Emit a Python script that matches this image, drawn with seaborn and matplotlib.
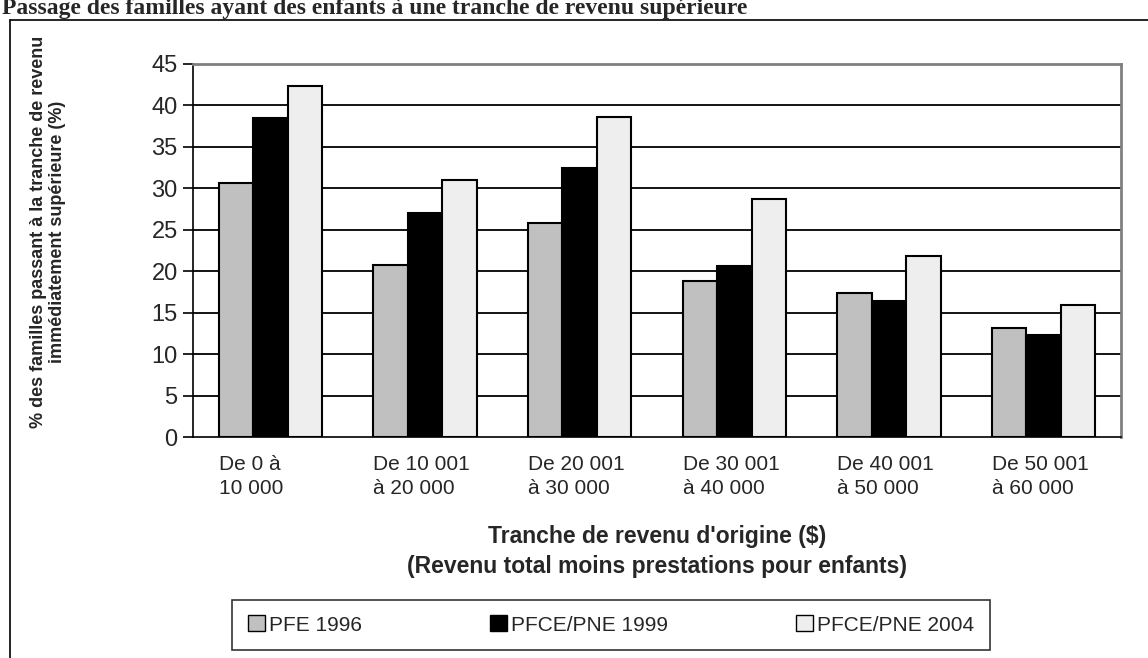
import numpy as np
import pandas as pd
import seaborn as sns
import matplotlib.pyplot as plt
from matplotlib.lines import Line2D

# categories (tranches de revenu d'origine)
tranches = ["De 0 à\n10 000", "De 10 001\nà 20 000", "De 20 001\nà 30 000",
            "De 30 001\nà 40 000", "De 40 001\nà 50 000", "De 50 001\nà 60 000"]
series = ["PFE 1996", "PFCE/PNE 1999", "PFCE/PNE 2004"]

# % des familles passant à la tranche supérieure
pfe_1996 = [30.6, 20.7, 25.8, 18.8, 17.4, 13.2]
pfce_1999 = [38.5, 27.0, 32.4, 20.6, 16.4, 12.3]
pfce_2004 = [42.3, 31.0, 38.6, 28.7, 21.8, 15.9]

colors = ["#C0C0C0", "#000000", "#EEEEEE"]

df = pd.DataFrame({
    "tranche": tranches * 3,
    "serie": [series[0]] * 6 + [series[1]] * 6 + [series[2]] * 6,
    "pct": pfe_1996 + pfce_1999 + pfce_2004,
})

sns.set_style("white")
plt.rcParams['font.family'] = ['Liberation Sans', 'DejaVu Sans']

fig = plt.figure(figsize=(11.48, 6.58), dpi=100)
ax = fig.add_axes([193 / 1148, 1 - 437 / 658, 928 / 1148, 373 / 658])

sns.barplot(data=df, x="tranche", y="pct", hue="serie", order=tranches,
            hue_order=series, palette=colors, width=0.67, gap=0,
            edgecolor="black", linewidth=1.5, saturation=1, ax=ax, legend=False)

ax.set_xlim(-0.5, 5.5)
ax.set_ylim(0, 45)
ax.set_yticks(np.arange(0, 46, 5))
for yv in range(5, 45, 5):
    ax.axhline(yv, color="black", lw=1.3, zorder=0)

ax.spines["left"].set_color("black")
ax.spines["bottom"].set_color("black")
ax.spines["left"].set_linewidth(1.2)
ax.spines["bottom"].set_linewidth(1.2)
for s in ["top", "right"]:
    ax.spines[s].set_visible(True)
    ax.spines[s].set_color("#808080")
    ax.spines[s].set_linewidth(2)

# category labels left-aligned, tick marks between categories
pos = np.arange(len(tranches))
ax.set_xticks(pos - 0.335)
ax.set_xticklabels(tranches, ha="left", fontsize=15, linespacing=1.3)
ax.tick_params(axis="x", which="major", length=0, pad=13)
ax.set_xticks(np.arange(-0.5, 6, 1), minor=True)
ax.tick_params(axis="x", which="minor", length=7, width=1.2, color="black", direction="out")
ax.tick_params(axis="y", length=7, width=1.2, color="black", direction="out", labelsize=17, pad=4, left=True)

ax.set_ylabel("% des familles passant à la tranche de revenu\nimmédiatement supérieure (%)",
              fontsize=13, fontweight="bold", linespacing=1.15)
ax.yaxis.set_label_coords(-0.137, 0.55)
ax.set_xlabel("Tranche de revenu d'origine ($)\n(Revenu total moins prestations pour enfants)",
              fontsize=16.5, fontweight="bold", linespacing=1.35, labelpad=20)

handles = [plt.Rectangle((0, 0), 1, 1, facecolor=c, edgecolor="black", lw=1) for c in colors]
leg = fig.legend(handles, series, ncol=3, loc="center",
                 bbox_to_anchor=(611 / 1148, 1 - 625 / 658), fontsize=15,
                 frameon=True, fancybox=False, edgecolor="black",
                 handlelength=0.8, handleheight=0.8, handletextpad=0.2,
                 columnspacing=6.15, borderpad=0.75, borderaxespad=0)
leg.get_frame().set_linewidth(1.2)

# outer frame and truncated title
fig.add_artist(Line2D([10 / 1148, 10 / 1148], [0, 1 - 20 / 658], color="black", lw=1.2))
fig.add_artist(Line2D([10 / 1148, 1], [1 - 20 / 658, 1 - 20 / 658], color="black", lw=1.2))
fig.text(2 / 1148, 1 - 14 / 658, "Passage des familles ayant des enfants à une tranche de revenu supérieure",
         fontsize=17, fontweight="bold", family="Liberation Serif", va="baseline")

fig.savefig("out.png", dpi=100)
